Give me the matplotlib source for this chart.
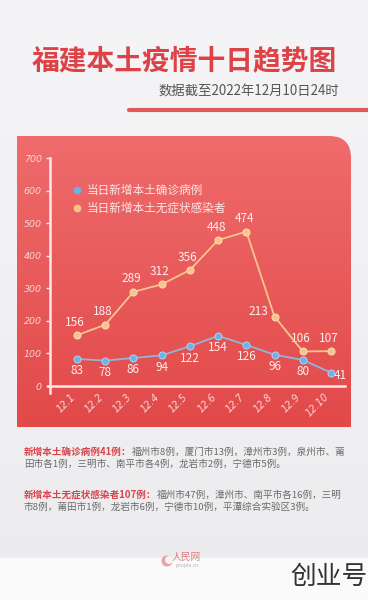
import numpy as np
import matplotlib
matplotlib.use("Agg")
import matplotlib.pyplot as plt
from matplotlib.path import Path
from matplotlib.patches import PathPatch, Circle

plt.rcParams['font.family'] = ['Noto Sans CJK SC', 'DejaVu Sans']

# ---- data ----
dates = ["12.1", "12.2", "12.3", "12.4", "12.5", "12.6", "12.7", "12.8", "12.9", "12.10"]
confirmed = [83, 78, 86, 94, 122, 154, 126, 96, 80, 41]
asymptomatic = [156, 188, 289, 312, 356, 448, 474, 213, 106, 107]
y_ticks = [0, 100, 200, 300, 400, 500, 600, 700]
legend_labels = ["当日新增本土确诊病例", "当日新增本土无症状感染者"]
title = "福建本土疫情十日趋势图"
subtitle = "数据截至2022年12月10日24时"
notes = [
    ("新增本土确诊病例41例：", "福州市8例，厦门市13例，漳州市3例，泉州市、莆",
     "田市各1例，三明市、南平市各4例，龙岩市2例，宁德市5例。"),
    ("新增本土无症状感染者107例：", "福州市47例，漳州市、南平市各16例，三明",
     "市8例，莆田市1例，龙岩市6例，宁德市10例，平潭综合实验区3例。"),
]

W, H = 368, 600
fig = plt.figure(figsize=(W / 100, H / 100), dpi=100)

# background axes in pixel coordinates
bg = fig.add_axes([0, 0, 1, 1])
bg.set_xlim(0, W)
bg.set_ylim(H, 0)
bg.axis('off')

grad = np.linspace(0, 1, 256).reshape(-1, 1)
bg_cmap = matplotlib.colors.LinearSegmentedColormap.from_list("bgc", ["#f5f5f7", "#ececee"])
bg.imshow(grad, extent=[0, W, H, 0], cmap=bg_cmap, aspect='auto', zorder=0)
bg.add_patch(plt.Rectangle((0, 558), W, 42, color="#fafafa", zorder=1, lw=0))

# title and subtitle
bg.text(W / 2, 61, title, ha='center', va='center', fontsize=20, fontweight='heavy',
        color="#dc4246", zorder=3)
bg.text(339, 92, subtitle, ha='right', va='center', fontsize=9.6, color="#555555", zorder=3)
bg.plot([129, 372], [110, 110], color="#e05a5c", lw=3, solid_capstyle='round', zorder=3)

# red panel with rounded top-right corner
x0, x1, y0, y1, r = 17, 351, 136, 427, 22
verts = [(x0, y1), (x0, y0), (x1 - r, y0), (x1, y0), (x1, y0 + r), (x1, y1), (x0, y1)]
codes = [Path.MOVETO, Path.LINETO, Path.LINETO, Path.CURVE3, Path.CURVE3, Path.LINETO, Path.CLOSEPOLY]
panel = PathPatch(Path(verts, codes), facecolor='none', edgecolor='none', zorder=2)
bg.add_patch(panel)
panel_cmap = matplotlib.colors.LinearSegmentedColormap.from_list("pc", ["#ef6b6c", "#e24949"])
im = bg.imshow(grad, extent=[x0, x1, y1, y0], cmap=panel_cmap, aspect='auto', zorder=2)
im.set_clip_path(panel)

# notes text
note_y = [(452, 464), (495, 507)]
for (prefix, rest1, line2), (ya, yb) in zip(notes, note_y):
    t1 = bg.text(24, ya, prefix, ha='left', va='center', fontsize=6.9, fontweight='bold',
                 color="#d9434a", zorder=3)
    bg.annotate(rest1, xy=(1, 0.5), xycoords=t1, ha='left', va='center', fontsize=6.9,
                color="#6a6a6a", zorder=3)
    bg.text(24, yb, line2, ha='left', va='center', fontsize=6.9, color="#6a6a6a", zorder=3)

# logo
bg.add_patch(Circle((167, 561), 5.5, facecolor="#e8a0a0", edgecolor='none', zorder=3))
bg.add_patch(Circle((169, 560), 4.0, facecolor="#f4f4f6", edgecolor='none', zorder=3))
bg.text(186, 557, "人民网", ha='center', va='center', fontsize=7, color="#d98080",
        fontstyle='italic', zorder=3)
bg.text(187, 566, "people.cn", ha='center', va='center', fontsize=3.5, color="#b0b0b0", zorder=3)

# watermark
bg.text(368, 577, "创业号", ha='right', va='center', fontsize=18.5, fontweight='light',
        color="#333333", zorder=3)

# ---- chart axes ----
px_per = (331 - 77) / 9.0
xl = (50 - 77) / px_per
xr = (345 - 77) / px_per
ax = fig.add_axes([50 / W, (H - 386) / H, (345 - 50) / W, (386 - 158) / H])
ax.set_xlim(xl, xr)
ax.set_ylim(0, 700)
ax.patch.set_alpha(0)
for s in ax.spines.values():
    s.set_visible(False)

axis_col = "#fce8e8"
ax.plot([xl, xl], [-22, 700], color=axis_col, lw=1.8, clip_on=False, zorder=2)
ax.plot([xl - 0.08, xr], [0, 0], color=axis_col, lw=1.8, clip_on=False, zorder=2)

x = np.arange(len(dates))
tick_col = "#fad4d4"
ax.set_yticks(y_ticks)
ax.set_yticklabels([str(v) for v in y_ticks], fontstyle='italic', color=tick_col,
                   fontsize=6.8, family='DejaVu Sans')
ax.tick_params(axis='y', direction='out', length=3, width=1, color=axis_col, pad=3)
ax.set_xticks(x)
ax.set_xticklabels(dates, rotation=45, ha='right', fontstyle='italic', color=tick_col,
                   fontsize=7, family='DejaVu Sans')
ax.tick_params(axis='x', length=0, pad=4)

blue_line = "#93b4dc"
blue_mk = "#6fb0e8"
orange_line = "#f8c58c"
orange_mk = "#f9c48a"

ax.plot(x, confirmed, color=blue_line, lw=1.3, marker='o', markersize=5,
        markerfacecolor=blue_mk, markeredgecolor="#a8cdef", markeredgewidth=0.8,
        zorder=4, clip_on=False)
ax.plot(x, asymptomatic, color=orange_line, lw=1.3, marker='o', markersize=5,
        markerfacecolor=orange_mk, markeredgecolor="#fbd9b0", markeredgewidth=0.8,
        zorder=4, clip_on=False)

lab_col = "#fdeeee"
fs = 8.5
for i, v in enumerate(confirmed):
    if i == len(confirmed) - 1:
        ax.annotate(str(v), (x[i], v), xytext=(3, -3), textcoords='offset pixels',
                    ha='left', va='center', fontsize=fs, color=lab_col)
    else:
        ax.annotate(str(v), (x[i], v), xytext=(0, -12), textcoords='offset pixels',
                    ha='center', va='center', fontsize=fs, color=lab_col)
for i, v in enumerate(asymptomatic):
    if i == 7:
        ax.annotate(str(v), (x[i], v), xytext=(-16, 5), textcoords='offset pixels',
                    ha='center', va='center', fontsize=fs, color=lab_col)
    else:
        ax.annotate(str(v), (x[i], v), xytext=(-2, 13), textcoords='offset pixels',
                    ha='center', va='center', fontsize=fs, color=lab_col)

# legend (drawn manually in pixel space)
bg.plot([77], [190], marker='o', markersize=4.5, color=blue_mk, zorder=5, lw=0)
bg.plot([77], [208], marker='o', markersize=4.5, color=orange_mk, zorder=5, lw=0)
bg.text(87, 190, legend_labels[0], ha='left', va='center', fontsize=8.4, color="#fde6e6", zorder=5)
bg.text(87, 208, legend_labels[1], ha='left', va='center', fontsize=8.4, color="#fde6e6", zorder=5)

fig.savefig("out.png", dpi=100)
